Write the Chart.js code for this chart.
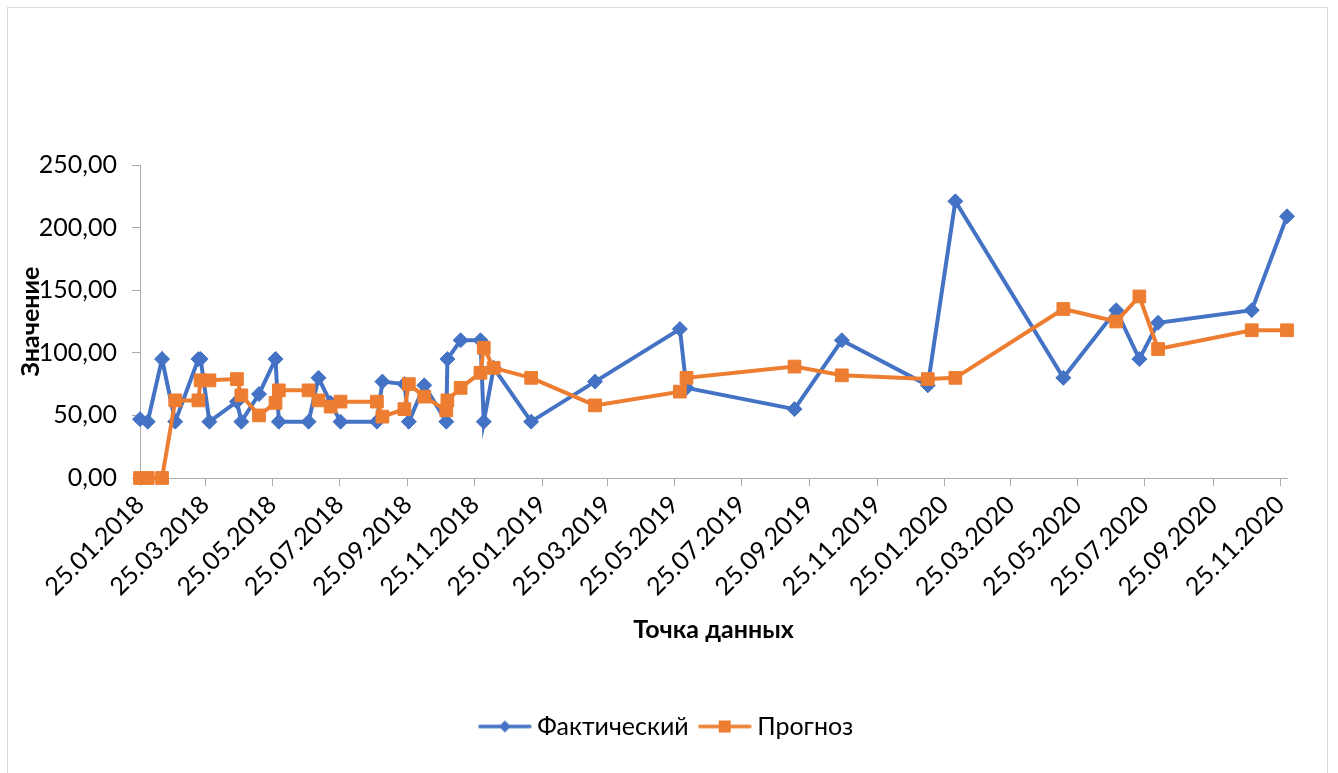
<!DOCTYPE html>
<html><head><meta charset="utf-8">
<script src="https://cdn.jsdelivr.net/npm/chart.js@4.4.1/dist/chart.umd.min.js"></script>
<style>
html,body{margin:0;padding:0;background:#fff;}
#wrap{position:relative;width:1338px;height:773px;overflow:hidden;background:#fff;}
#frame{position:absolute;left:7px;top:7px;width:1321px;height:800px;border:1px solid #d9d9d9;box-sizing:border-box;pointer-events:none;}
canvas{position:absolute;left:0;top:0;}
</style></head><body>
<div id="wrap"><canvas id="c" width="1338" height="773"></canvas><div id="frame"></div></div>
<script>
const dates = ['25.01.2018','01.02.2018','14.02.2018','26.02.2018','19.03.2018','21.03.2018','29.03.2018','23.04.2018','27.04.2018','13.05.2018',
  '28.05.2018','31.05.2018','27.06.2018','06.07.2018','17.07.2018','26.07.2018','28.08.2018','02.09.2018','22.09.2018','26.09.2018',
  '10.10.2018','30.10.2018','31.10.2018','12.11.2018','30.11.2018','03.12.2018','12.12.2018','15.01.2019','14.03.2019','30.05.2019',
  '05.06.2019','11.09.2019','24.10.2019','10.01.2020','04.02.2020','12.05.2020','29.06.2020','20.07.2020','06.08.2020','30.10.2020',
  '01.12.2020'];
const actual = [47,45,95,45,95,95,45,61,45,67, 95,45,45,80,60,45,45,77,75,45, 74,45,95,110,110,45,88,45,77,119, 72,55,110,74,221,80,134,95,124,134, 209];
const forecast = [0,0,0,62,62,78,78,79,66,50, 60,70,70,62,57,61,61,49,55,75, 65,54,62,72,84,104,88,80,58,69, 80,89,82,79,80,135,125,145,103,118, 118];
const xTickLabels = ['25.01.2018','25.03.2018','25.05.2018','25.07.2018','25.09.2018','25.11.2018','25.01.2019','25.03.2019','25.05.2019',
  '25.07.2019','25.09.2019','25.11.2019','25.01.2020','25.03.2020','25.05.2020','25.07.2020','25.09.2020','25.11.2020'];
const yTickValues = [0,50,100,150,200,250];

const DAY = 86400000;
function toDay(s){const p=s.split('.').map(Number);return Date.UTC(p[2],p[1]-1,p[0])/DAY;}
const xs = dates.map(toDay);
const tickDays = xTickLabels.map(toDay);

const FONT = 'Lato, Roboto, "Noto Sans", sans-serif';
const BLUE = '#4472C4', ORANGE = '#ED7D31', AXIS = '#ababab';

function legendImg(color, kind){
  const c=document.createElement('canvas'); c.width=54; c.height=18;
  const g=c.getContext('2d');
  g.strokeStyle=color; g.lineWidth=3.5; g.lineCap='round';
  g.beginPath(); g.moveTo(2,9); g.lineTo(52,9); g.stroke();
  g.fillStyle=color;
  if(kind==='diamond'){g.beginPath();g.moveTo(27,3);g.lineTo(33,9);g.lineTo(27,15);g.lineTo(21,9);g.closePath();g.fill();}
  else {g.fillRect(21,3,12,12);}
  return c;
}
const legendImgs = [legendImg(BLUE,'diamond'), legendImg(ORANGE,'square')];

const centerLegend = {
  id:'centerLegend',
  afterLayout(chart){
    const l = chart.legend;
    if(l){ l.left = 0; l.right = chart.width; l.width = chart.width; }
  }
};

new Chart(document.getElementById('c').getContext('2d'), {
  type:'line',
  data:{datasets:[
    {label:'Фактический', data: xs.map((x,i)=>({x:x,y:actual[i]})), borderColor:BLUE, backgroundColor:BLUE,
     borderWidth:4, pointStyle:'rectRot', pointRadius:7.5, pointBorderWidth:1, pointHoverRadius:7.5, order:1, tension:0, clip:false},
    {label:'Прогноз', data: xs.map((x,i)=>({x:x,y:forecast[i]})), borderColor:ORANGE, backgroundColor:ORANGE,
     borderWidth:4, pointStyle:'rect', pointRadius:9, pointBorderWidth:1, pointHoverRadius:9, order:0, tension:0, clip:false}
  ]},
  plugins:[centerLegend],
  options:{
    responsive:false, animation:false, devicePixelRatio:1,
    layout:{padding:{top:165,left:0,right:51,bottom:24}},
    plugins:{
      tooltip:{enabled:false},
      legend:{position:'bottom', labels:{
        usePointStyle:true, pointStyleWidth:40, padding:16, color:'#000',
        font:{family:FONT,size:25},
        sort:(a,b)=>a.datasetIndex-b.datasetIndex,
        generateLabels(chart){
          const items = Chart.defaults.plugins.legend.labels.generateLabels(chart);
          items.forEach(it=>{it.pointStyle = legendImgs[it.datasetIndex];});
          return items;
        }}}
    },
    scales:{
      x:{type:'linear', min:xs[0], max:xs[xs.length-1],
        afterBuildTicks(s){s.ticks = tickDays.map(v=>({value:v}));},
        ticks:{autoSkip:false, minRotation:45, maxRotation:45, padding:4, color:'#000',
          font:{family:FONT,size:25}, callback:(v,i)=>xTickLabels[i]},
        grid:{drawOnChartArea:false, drawTicks:true, tickLength:8, color:AXIS},
        border:{color:AXIS,width:1},
        title:{display:true, text:'Точка данных', color:'#000', font:{family:FONT,size:25,weight:'bold'}, padding:{top:0,bottom:53}},
        afterFit(s){s.height=220;}
      },
      y:{min:0, max:250,
        afterBuildTicks(s){s.ticks = yTickValues.map(v=>({value:v}));},
        ticks:{padding:15, color:'#000', font:{family:FONT,size:25}, callback:v=>v.toFixed(2).replace('.',',')},
        grid:{drawOnChartArea:false, drawTicks:true, tickLength:8, color:AXIS},
        border:{color:AXIS,width:1},
        title:{display:true, text:'Значение', color:'#000', font:{family:FONT,size:25,weight:'bold'}, padding:{top:16,bottom:0}},
        afterFit(s){s.width=140;}
      }
    }
  }
});
</script>
</body></html>
